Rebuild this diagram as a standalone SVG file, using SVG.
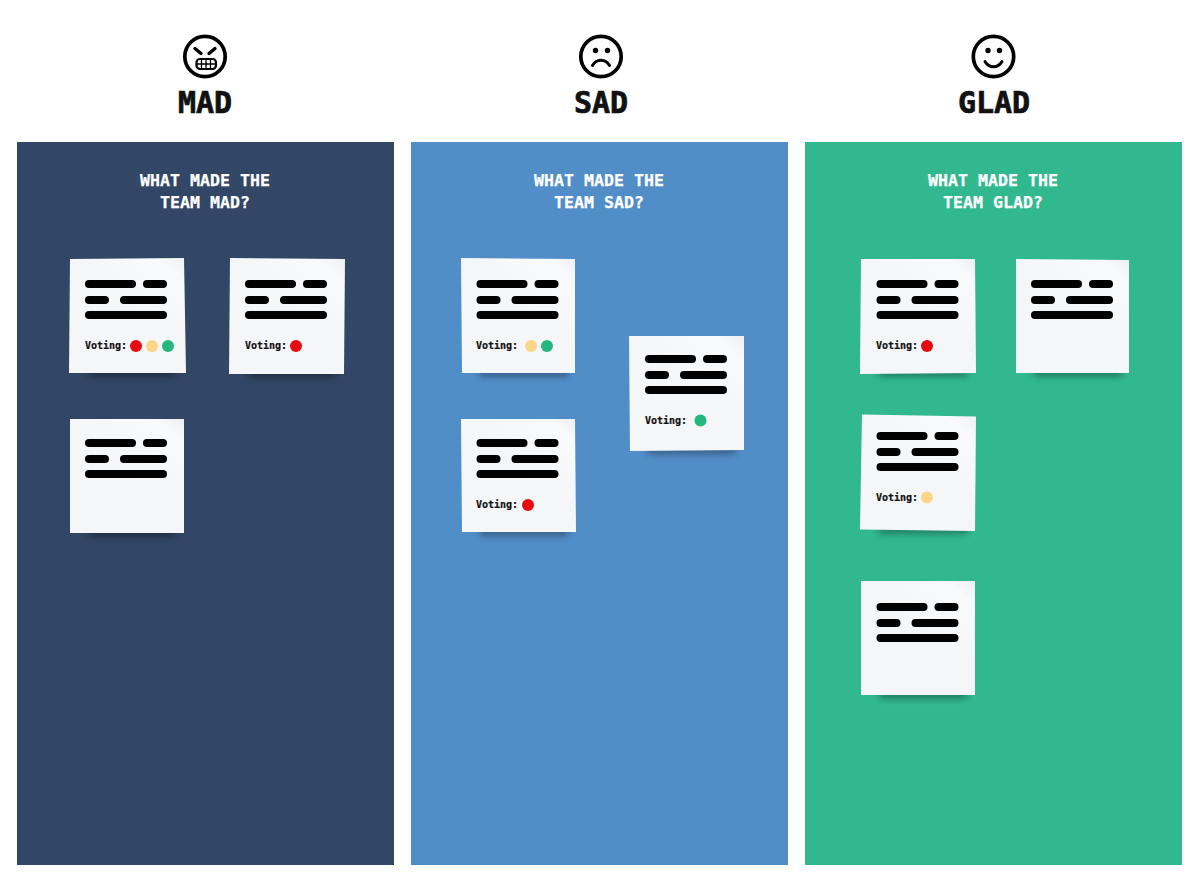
<svg xmlns="http://www.w3.org/2000/svg" width="1200" height="881" viewBox="0 0 1200 881">
<style>
.title{font:700 30px "DejaVu Sans Mono","Liberation Mono",monospace;fill:#111;stroke:#111;stroke-width:.7;text-anchor:middle}
.q{font:700 16.6px "DejaVu Sans Mono","Liberation Mono",monospace;fill:#fff;stroke:#fff;stroke-width:.25;text-anchor:middle}
.v{font:700 10px "DejaVu Sans Mono","Liberation Mono",monospace;fill:#111;stroke:#111;stroke-width:.2}
.face{fill:none;stroke:#000;stroke-width:3.7;stroke-linecap:round}
.note{fill:url(#paper)}
.sh{fill:#000;opacity:.42;filter:url(#blur)}
.r{fill:#e8090f}.y{fill:#fdd68a}.g{fill:#25b77e}
</style>
<defs>
<linearGradient id="paper" x1="1" y1="0" x2="0.6" y2="0.5"><stop offset="0" stop-color="#eceef0"/><stop offset=".25" stop-color="#f9fafb"/><stop offset="1" stop-color="#f5f6f8"/></linearGradient>
<filter id="blur" x="-30%" y="-200%" width="160%" height="500%"><feGaussianBlur stdDeviation="3.500"/></filter>
<g id="lines" fill="#000">
<rect x="0" y="0" width="51" height="8" rx="4"/><rect x="58" y="0" width="24" height="8" rx="4"/>
<rect x="0" y="16" width="24" height="8" rx="4"/><rect x="35" y="16" width="47" height="8" rx="4"/>
<rect x="0" y="31" width="82" height="8" rx="4"/>
</g>
</defs>
<rect width="1200" height="881" fill="#fff"/>
<g id="col-mad">
<rect x="17" y="142" width="377" height="723" fill="#324665"/>
<g id="head-mad" class="face"><circle cx="205" cy="56.500" r="20.200"/>
<path d="M195 48.500l6 5M215 48.500l-6 5" stroke-width="3.400"/>
<rect x="196" y="59" width="19.500" height="10" rx="3.500" stroke-width="2.200" transform="translate(.5 0)"/>
<path d="M201.500 59v10M206 59v10M210.500 59v10M196 64h20" stroke-width="1.300" stroke-linecap="butt"/></g>
<text class="title" x="205" y="112.500">MAD</text>
<text class="q" x="205" y="186">WHAT MADE THE</text><text class="q" x="205" y="208">TEAM MAD?</text>
</g>
<g id="col-sad">
<rect x="411" y="142" width="377" height="723" fill="#518dc7"/>
<g id="head-sad" class="face"><circle cx="601" cy="56.500" r="20.200"/>
<path d="M592.500 65.500c4-7 13-7 17 0" stroke-width="3"/></g>
<circle cx="595.500" cy="50.500" r="2.700" fill="#000"/><circle cx="607.500" cy="50.500" r="2.700" fill="#000"/>
<text class="title" x="601" y="112.500">SAD</text>
<text class="q" x="599" y="186">WHAT MADE THE</text><text class="q" x="599" y="208">TEAM SAD?</text>
</g>
<g id="col-glad">
<rect x="805" y="142" width="377" height="723" fill="#31b88e"/>
<g id="head-glad" class="face"><circle cx="993.500" cy="56.500" r="20.200"/>
<path d="M985 61.500c4 7 13 7 17 0" stroke-width="3"/></g>
<circle cx="988" cy="50.500" r="2.700" fill="#000"/><circle cx="999.500" cy="50.500" r="2.700" fill="#000"/>
<text class="title" x="994" y="112.500">GLAD</text>
<text class="q" x="993" y="186">WHAT MADE THE</text><text class="q" x="993" y="208">TEAM GLAD?</text>
</g>
<g id="note-mad-1"><rect class="sh" x="88" y="370" width="88" height="6"/><polygon class="note" points="70,259 184,258 186,373 69,373"/><use href="#lines" x="85" y="280"/><text class="v" x="85" y="349">Voting:</text><circle class="r" cx="136" cy="346" r="6"/><circle class="y" cx="152" cy="346" r="6"/><circle class="g" cx="168" cy="346" r="6"/></g>
<g id="note-mad-2"><rect class="sh" x="248" y="371" width="88" height="6"/><polygon class="note" points="230,258 345,259 344,374 229,374"/><use href="#lines" x="245" y="280"/><text class="v" x="245" y="349">Voting:</text><circle class="r" cx="296" cy="346" r="6"/></g>
<g id="note-mad-3"><rect class="sh" x="88" y="530" width="88" height="6"/><polygon class="note" points="70,419 184,419 184,533 70,533"/><use href="#lines" x="85" y="439"/></g>
<g id="note-sad-1"><rect class="sh" x="480" y="370" width="88" height="6"/><polygon class="note" points="461,258 575,259 575,373 462,373"/><use href="#lines" x="476.500" y="280"/><text class="v" x="476" y="349">Voting:</text><circle class="y" cx="531" cy="346" r="6"/><circle class="g" cx="547" cy="346" r="6"/></g>
<g id="note-sad-2"><rect class="sh" x="648" y="447" width="88" height="6"/><polygon class="note" points="629,336 744,336 744,450 630,451"/><use href="#lines" x="645" y="355"/><text class="v" x="645" y="424">Voting:</text><circle class="g" cx="700.500" cy="420.500" r="6"/></g>
<g id="note-sad-3"><rect class="sh" x="480" y="529" width="88" height="6"/><polygon class="note" points="461,419 575,419 576,532 462,532"/><use href="#lines" x="476.500" y="439"/><text class="v" x="476" y="508">Voting:</text><circle class="r" cx="528" cy="505" r="6"/></g>
<g id="note-glad-1"><rect class="sh" x="879" y="370" width="88" height="6"/><polygon class="note" points="861,259 975,259 976,373 860,374"/><use href="#lines" x="876.500" y="280"/><text class="v" x="876" y="349">Voting:</text><circle class="r" cx="927" cy="346" r="6"/></g>
<g id="note-glad-2"><rect class="sh" x="1034" y="370" width="88" height="6"/><polygon class="note" points="1016,259 1129,260 1129,373 1016,373"/><use href="#lines" x="1031" y="280"/></g>
<g id="note-glad-3"><rect class="sh" x="879" y="527" width="88" height="6"/><polygon class="note" points="862,414.500 976,416.500 975,531 860,529.500"/><use href="#lines" x="876.500" y="432"/><text class="v" x="876" y="501">Voting:</text><circle class="y" cx="927" cy="497.500" r="6"/></g>
<g id="note-glad-4"><rect class="sh" x="879" y="692" width="88" height="6"/><polygon class="note" points="861,581 975,581 975,695 861,695"/><use href="#lines" x="876.500" y="603"/></g>
</svg>
